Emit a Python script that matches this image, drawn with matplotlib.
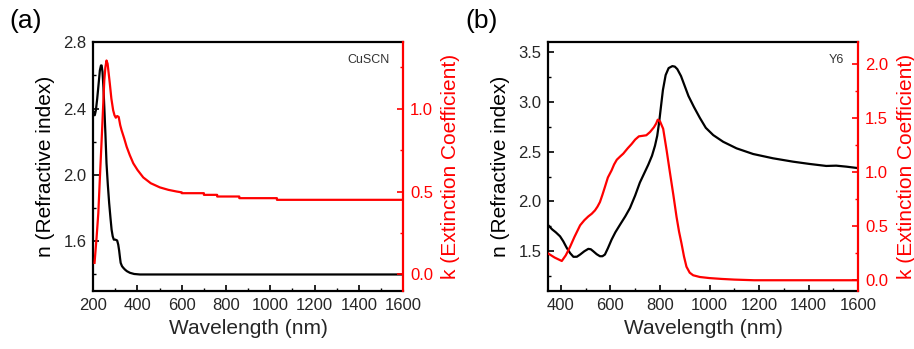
import matplotlib
matplotlib.use("Agg")
import matplotlib.pyplot as plt
from matplotlib.ticker import MultipleLocator, FormatStrFormatter

plt.rcParams['font.family'] = ['Liberation Sans', 'DejaVu Sans']

# ---- CuSCN optical constants ----
cuscn_wl_n = [200, 203, 207, 212, 218, 223, 230, 235, 238, 242, 246, 250, 255, 260, 266, 272,
              278, 283, 288, 293, 300, 308, 313, 317, 321, 324, 330, 336, 343, 352, 366,
              385, 411, 500, 800, 1200, 1600]
cuscn_n = [2.36, 2.38, 2.36, 2.39, 2.46, 2.53, 2.63, 2.66, 2.66, 2.62, 2.53, 2.41, 2.25, 2.07,
           1.94, 1.83, 1.74, 1.67, 1.63, 1.61, 1.61, 1.605, 1.58, 1.545, 1.50, 1.47, 1.45,
           1.44, 1.43, 1.42, 1.41, 1.403, 1.40, 1.40, 1.40, 1.40, 1.40]

cuscn_wl_k = [206, 215, 223, 230, 238, 245, 250, 255, 260, 265, 270, 275, 282, 290, 296,
              302, 308, 315, 322, 328, 340, 351, 365, 381, 400, 426, 460, 501, 540, 577,
              600, 600, 700, 700, 760, 760, 860, 860, 1030, 1030, 1600]
cuscn_k = [0.07, 0.22, 0.37, 0.58, 0.81, 1.02, 1.17, 1.25, 1.29, 1.27, 1.21, 1.15, 1.06, 0.99,
           0.96, 0.945, 0.955, 0.95, 0.90, 0.87, 0.82, 0.77, 0.72, 0.67, 0.63, 0.585, 0.55,
           0.525, 0.51, 0.50, 0.495, 0.49, 0.49, 0.48, 0.48, 0.47, 0.47, 0.46, 0.46, 0.45, 0.45]

# ---- Y6 optical constants ----
y6_wl_n = [350, 365, 380, 397, 410, 424, 438, 451, 465, 478, 495, 511, 521, 531, 545, 558,
           568, 578, 590, 605, 620, 639, 660, 679, 700, 719, 736, 753, 768, 780, 789, 797,
           803, 812, 823, 835, 850, 860, 870, 885, 897, 915, 937, 961, 985, 1015, 1055, 1109,
           1176, 1256, 1337, 1404, 1471, 1511, 1552, 1600]
y6_n = [1.76, 1.72, 1.69, 1.65, 1.60, 1.534, 1.48, 1.444, 1.445, 1.467, 1.50, 1.524, 1.52,
        1.50, 1.47, 1.45, 1.45, 1.467, 1.53, 1.617, 1.69, 1.767, 1.85, 1.934, 2.06, 2.19,
        2.28, 2.37, 2.46, 2.56, 2.66, 2.80, 2.93, 3.12, 3.27, 3.34, 3.36, 3.355, 3.33, 3.26,
        3.18, 3.06, 2.95, 2.84, 2.74, 2.667, 2.60, 2.534, 2.477, 2.434, 2.40, 2.377, 2.357,
        2.36, 2.35, 2.335]

y6_wl_k = [350, 375, 404, 420, 437, 455, 478, 495, 511, 525, 538, 548, 558, 568, 578, 590,
           605, 615, 626, 640, 652, 670, 686, 700, 715, 730, 745, 760, 776, 785, 791, 800,
           813, 827, 840, 854, 867, 877, 887, 897, 907, 920, 934, 961, 1000, 1050, 1100, 1180,
           1600]
y6_k = [0.246, 0.21, 0.178, 0.23, 0.307, 0.40, 0.508, 0.555, 0.59, 0.615, 0.646, 0.68, 0.723,
        0.79, 0.862, 0.95, 1.016, 1.07, 1.114, 1.145, 1.17, 1.22, 1.26, 1.30, 1.33, 1.335,
        1.34, 1.37, 1.415, 1.45, 1.484, 1.47, 1.40, 1.20, 1.00, 0.79, 0.585, 0.45, 0.34,
        0.22, 0.125, 0.07, 0.046, 0.03, 0.02, 0.012, 0.006, 0.0, 0.0]

panel_labels = ["(a)", "(b)"]
materials = ["CuSCN", "Y6"]

fig = plt.figure(figsize=(9.14, 3.49), dpi=100)

axes_boxes = [[0.102, 0.166, 0.339, 0.713], [0.600, 0.166, 0.339, 0.713]]
xlims = [(200, 1600), (350, 1600)]
nlims = [(1.3, 2.8), (1.1, 3.6)]
klims = [(-0.1, 1.4), (-0.1, 2.2)]
x_major = [200, 200]
n_major = [0.4, 0.5]
n_minor = [0.2, 0.25]
k_major = [0.5, 0.5]

data = [(cuscn_wl_n, cuscn_n, cuscn_wl_k, cuscn_k), (y6_wl_n, y6_n, y6_wl_k, y6_k)]

tick_color = "#262626"
fs_tick = 12
fs_label = 15

for i in range(2):
    ax = fig.add_axes(axes_boxes[i])
    axk = ax.twinx()
    wln, nv, wlk, kv = data[i]
    ax.plot(wln, nv, color="black", lw=1.6, zorder=3, solid_joinstyle="round")
    axk.plot(wlk, kv, color="red", lw=1.6, zorder=3, solid_joinstyle="round")

    ax.set_xlim(*xlims[i])
    ax.set_ylim(*nlims[i])
    axk.set_ylim(*klims[i])

    ax.xaxis.set_major_locator(MultipleLocator(x_major[i]))
    ax.xaxis.set_minor_locator(MultipleLocator(x_major[i] / 2))
    ax.yaxis.set_major_locator(MultipleLocator(n_major[i]))
    ax.yaxis.set_minor_locator(MultipleLocator(n_minor[i]))
    ax.yaxis.set_major_formatter(FormatStrFormatter("%.1f"))
    axk.yaxis.set_major_locator(MultipleLocator(k_major[i]))
    axk.yaxis.set_minor_locator(MultipleLocator(k_major[i] / 2))
    axk.yaxis.set_major_formatter(FormatStrFormatter("%.1f"))

    for sp in ["left", "bottom", "top"]:
        ax.spines[sp].set_linewidth(1.6)
    ax.spines["right"].set_visible(False)
    for sp in ["left", "bottom", "top"]:
        axk.spines[sp].set_visible(False)
    axk.spines["right"].set_color("red")
    axk.spines["right"].set_linewidth(1.6)

    ax.tick_params(axis="both", which="major", direction="in", length=4, width=1.2,
                   labelsize=fs_tick, labelcolor=tick_color, pad=5, top=False, right=False)
    ax.tick_params(axis="both", which="minor", direction="in", length=2.5, width=1.0,
                   top=False, right=False)
    axk.tick_params(axis="y", which="major", direction="in", length=4, width=1.2,
                    labelsize=fs_tick, colors="red", pad=5)
    axk.tick_params(axis="y", which="minor", direction="in", length=2.5, width=1.0,
                    colors="red")

    ax.set_xlabel("Wavelength (nm)", fontsize=fs_label, color=tick_color, labelpad=4)
    ax.set_ylabel("n (Refractive index)", fontsize=fs_label, color="black", labelpad=6)
    axk.set_ylabel("k (Extinction Coefficient)", fontsize=fs_label, color="red", labelpad=6)

    ax.text(0.955, 0.93, materials[i], transform=ax.transAxes, ha="right", va="center",
            fontsize=9, color="#333333")

fig.text(0.010, 0.94, panel_labels[0], fontsize=19, ha="left", va="center")
fig.text(0.509, 0.94, panel_labels[1], fontsize=19, ha="left", va="center")

fig.savefig("out.png", dpi=100)
